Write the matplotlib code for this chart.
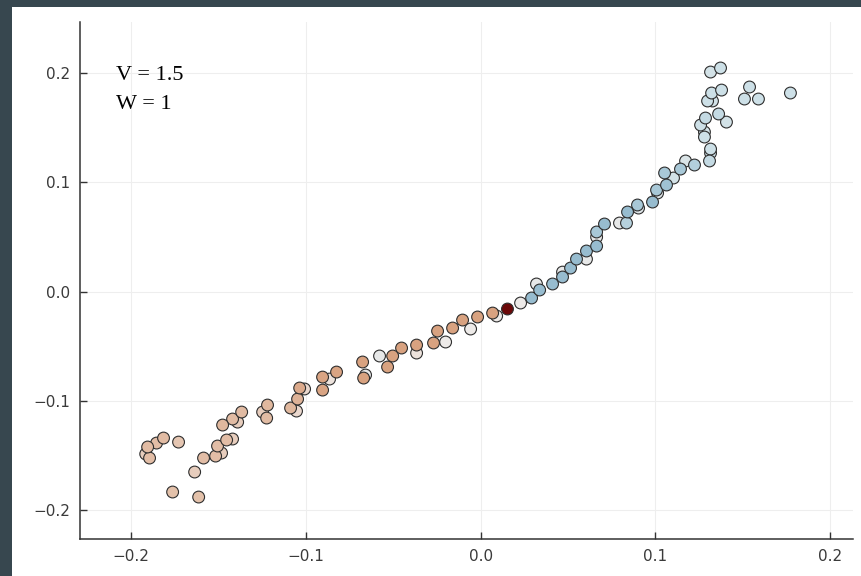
import numpy as np
import matplotlib
matplotlib.use("Agg")
import matplotlib.pyplot as plt
from matplotlib.colors import LinearSegmentedColormap
from matplotlib.patches import Rectangle

# -----------------------------
# Data
# -----------------------------

x_vals = [
    -0.1905, -0.1894, -0.1916, -0.1854, -0.1814, -0.1728, -0.1762, -0.1613,
    -0.1636, -0.1585, -0.1516, -0.1482, -0.1505, -0.1453, -0.1419, -0.1476,
    -0.1419, -0.1390, -0.1367, -0.1247, -0.1219, -0.1224, -0.1087, -0.1053,
    -0.1047, -0.1035, -0.1007, -0.0904, -0.0904, -0.0864, -0.0824, -0.0675,
    -0.0658, -0.0669, -0.0578, -0.0503, -0.0532, -0.0452, -0.0366, -0.0366,
    -0.0246, -0.0269, -0.0200, -0.0160, -0.0103, -0.0057, -0.0017, 0.0069,
    0.0092, 0.0154, 0.0229, 0.0292, 0.0338, 0.0320, 0.0412, 0.0469,
    0.0469, 0.0515, 0.0549, 0.0606, 0.0606, 0.0664, 0.0664, 0.0664,
    0.0709, 0.0795, 0.0835, 0.0841, 0.0904, 0.0898, 0.0984, 0.1013,
    0.1007, 0.1064, 0.1104, 0.1053, 0.1144, 0.1173, 0.1224, 0.1310,
    0.1316, 0.1316, 0.1281, 0.1281, 0.1259, 0.1287, 0.1362, 0.1407,
    0.1299, 0.1327, 0.1322, 0.1379, 0.1316, 0.1373, 0.1539, 0.1510,
    0.1590, 0.1773,
]

y_vals = [
    -0.1423, -0.1524, -0.1487, -0.1387, -0.1341, -0.1378, -0.1835, -0.1881,
    -0.1652, -0.1524, -0.1506, -0.1478, -0.1414, -0.1359, -0.1350, -0.1222,
    -0.1167, -0.1195, -0.1103, -0.1103, -0.1039, -0.1158, -0.1066, -0.1094,
    -0.0984, -0.0883, -0.0892, -0.0902, -0.0783, -0.0801, -0.0737, -0.0645,
    -0.0764, -0.0792, -0.0590, -0.0590, -0.0691, -0.0517, -0.0490, -0.0563,
    -0.0362, -0.0471, -0.0462, -0.0334, -0.0261, -0.0343, -0.0233, -0.0197,
    -0.0224, -0.0160, -0.0105, -0.0059, 0.0014, 0.0069, 0.0069, 0.0133,
    0.0178, 0.0215, 0.0297, 0.0297, 0.0371, 0.0416, 0.0499, 0.0545,
    0.0618, 0.0627, 0.0627, 0.0728, 0.0764, 0.0792, 0.0819, 0.0902,
    0.0929, 0.0975, 0.1039, 0.1085, 0.1121, 0.1195, 0.1158, 0.1195,
    0.1268, 0.1304, 0.1414, 0.1460, 0.1524, 0.1588, 0.1625, 0.1551,
    0.1744, 0.1744, 0.1817, 0.1844, 0.2009, 0.2046, 0.1872, 0.1762,
    0.1762, 0.1817,
]

# colour value of each point (0 = dark red ... 1 = blue)
z_vals = [
    0.36, 0.37, 0.42, 0.37, 0.36, 0.40, 0.38, 0.38,
    0.42, 0.37, 0.37, 0.42, 0.37, 0.37, 0.42, 0.35,
    0.36, 0.42, 0.36, 0.42, 0.35, 0.36, 0.35, 0.45,
    0.33, 0.30, 0.45, 0.28, 0.28, 0.48, 0.28, 0.27,
    0.52, 0.27, 0.52, 0.27, 0.27, 0.27, 0.27, 0.48,
    0.27, 0.27, 0.50, 0.27, 0.27, 0.50, 0.27, 0.27,
    0.50, 0.00, 0.50, 0.72, 0.72, 0.52, 0.72, 0.72,
    0.52, 0.72, 0.72, 0.52, 0.72, 0.72, 0.52, 0.68,
    0.72, 0.52, 0.65, 0.72, 0.55, 0.68, 0.72, 0.55,
    0.68, 0.70, 0.58, 0.68, 0.68, 0.56, 0.66, 0.62,
    0.60, 0.60, 0.60, 0.58, 0.60, 0.62, 0.62, 0.58,
    0.60, 0.58, 0.60, 0.60, 0.58, 0.60, 0.60, 0.60,
    0.60, 0.60,
]

x_ticks = [-0.2, -0.1, 0.0, 0.1, 0.2]
y_ticks = [-0.2, -0.1, 0.0, 0.1, 0.2]
labels = ["V = 1.5", "W = 1"]

# -----------------------------
# Figure
# -----------------------------

cmap = LinearSegmentedColormap.from_list(
    "rdbu_soft",
    [(0.0, "#6b0808"), (0.25, "#d69c78"), (0.40, "#e5c6b2"),
     (0.50, "#eeeae8"), (0.60, "#cde0e7"), (0.75, "#8ab4ca"), (1.0, "#4a86ad")],
)

fig = plt.figure(figsize=(8.61, 5.76), dpi=100, facecolor="#37474f")
panel = Rectangle((12 / 861, 0), 1, 1 - 7 / 576, transform=fig.transFigure,
                  facecolor="white", edgecolor="none", zorder=-10)
fig.add_artist(panel)

ax = fig.add_axes([80 / 861, 37 / 576, 773 / 861, 517 / 576])
ax.set_zorder(1)
ax.set_facecolor("white")

# pale points sit underneath the stronger coloured ones
xs = np.array(x_vals)
ys = np.array(y_vals)
zs = np.array(z_vals)
order = np.argsort(-np.abs(zs - 0.5) * -1, kind="stable")
ax.scatter(xs[order], ys[order], c=zs[order], cmap=cmap, vmin=0, vmax=1, s=72,
           edgecolors="#2e2e2e", linewidths=0.8, zorder=3)

ax.set_xlim(-0.2292, 0.2131)
ax.set_ylim(-0.2265, 0.2467)
ax.set_xticks(x_ticks)
ax.set_yticks(y_ticks)
ax.set_xticklabels([f"{t:.1f}".replace("-", "\u2212") for t in x_ticks])
ax.set_yticklabels([f"{t:.1f}".replace("-", "\u2212") for t in y_ticks])

ax.grid(True, color="#eeeeee", linewidth=0.8, zorder=0)
ax.set_axisbelow(True)
for side in ["top", "right"]:
    ax.spines[side].set_visible(False)
for side in ["left", "bottom"]:
    ax.spines[side].set_color("#333333")
    ax.spines[side].set_linewidth(1.1)
ax.tick_params(direction="in", length=5, width=1, color="#333333",
               labelsize=11, labelcolor="#3a3a3a", pad=7)

ax.text(0.0466, 0.888, labels[0], transform=ax.transAxes, family="Liberation Serif",
        fontsize=16, va="baseline", ha="left", color="black")
ax.text(0.0466, 0.832, labels[1], transform=ax.transAxes, family="Liberation Serif",
        fontsize=16, va="baseline", ha="left", color="black")

fig.savefig("out.png", dpi=100, facecolor=fig.get_facecolor())
